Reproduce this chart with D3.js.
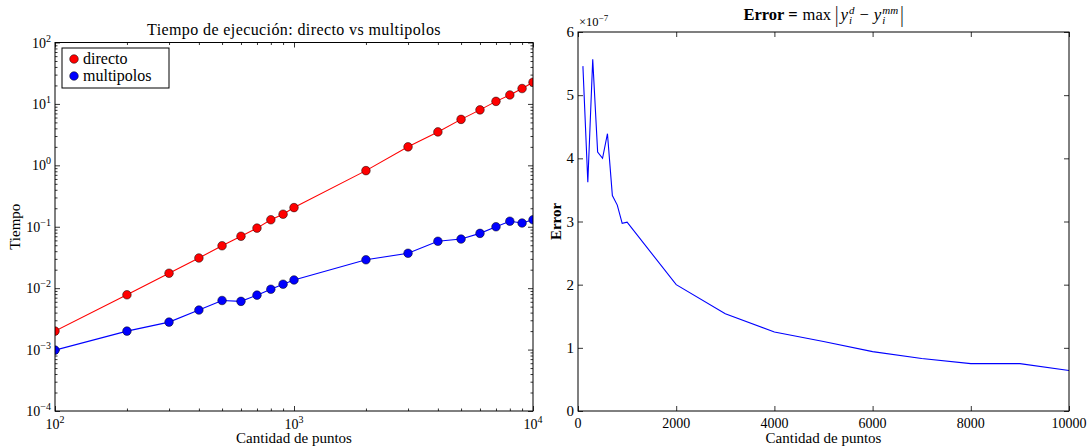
<!DOCTYPE html>
<html>
<head>
<meta charset="utf-8" />
<title>Tiempo de ejecución: directo vs multipolos</title>
<script src="https://d3js.org/d3.v7.min.js" charset="utf-8"></script>
<style>
    body { margin: 0; background: #fff; }
    svg text { font-family: "Liberation Serif", "DejaVu Serif", serif; fill: #000; }
    .axis path { display: none; }
    .axis line { stroke: #000; stroke-width: 0.8; }
</style>
</head>
<body>
<svg id="chart" width="1088" height="447"></svg>
<script>

// cantidad de puntos
var puntos = [100, 200, 300, 400, 500, 600, 700, 800, 900, 1000,
              2000, 3000, 4000, 5000, 6000, 7000, 8000, 9000, 10000];

// tiempos (segundos)
var directo = [0.002, 0.0078, 0.0175, 0.031, 0.049, 0.07, 0.095, 0.13, 0.16, 0.205,
               0.82, 2.0, 3.5, 5.6, 8.0, 11.0, 14.0, 17.8, 22.5];
var multipolos = [0.00098, 0.002, 0.0028, 0.0044, 0.0063, 0.0061, 0.0077, 0.0096, 0.0116, 0.0136,
                  0.029, 0.037, 0.058, 0.063, 0.078, 0.10, 0.123, 0.115, 0.13];

// error maximo (en unidades de 1e-7)
var errorMax = [5.46, 3.62, 5.57, 4.1, 4.0, 4.39, 3.41, 3.26, 2.97, 2.99,
                2.0, 1.54, 1.25, 1.1, 0.94, 0.83, 0.75, 0.75, 0.64];

var logTicksX = [100, 1000, 10000];
var logTicksY = [1e-4, 1e-3, 1e-2, 1e-1, 1e0, 1e1, 1e2];
var errTicksX = [0, 2000, 4000, 6000, 8000, 10000];
var errTicksY = [0, 1, 2, 3, 4, 5, 6];

var svg = d3.select("#chart");
svg.append("rect").attr("width", 1088).attr("height", 447).attr("fill", "#fff");

var fs = 14;

// ---------- helpers ----------

// minor ticks of a log axis: 2..9 for each decade
function minorLog(domain) {
    var out = [];
    for (var e = Math.log10(domain[0]); e < Math.log10(domain[1]); e++) {
        for (var m = 2; m <= 9; m++) out.push(m * Math.pow(10, e));
    }
    return out;
}

// write "10^e" into a tick text
function powLabel(sel) {
    sel.each(function(d) {
        var t = d3.select(this).text(null);
        var e = Math.round(Math.log10(d));
        t.append("tspan").text("10");
        t.append("tspan").attr("font-size", 10).attr("dy", -6)
            .text(e < 0 ? "\u2212" + (-e) : e);
    });
}

// sequence of pieces drawn one after another, centered on cx
function mathLine(g, pieces, cx, y) {
    var grp = g.append("g");
    var x = 0;
    pieces.forEach(function(p) {
        if (p.stack) {
            var w = 0;
            p.stack.forEach(function(s) {
                var t = grp.append("text").attr("x", x).attr("y", y + s.dy)
                    .attr("font-size", s.size).attr("font-style", s.style || null).text(s.t);
                w = Math.max(w, t.node().getComputedTextLength());
            });
            x += w + (p.after || 0);
        } else {
            var yy = y + (p.dy || 0);
            var t = grp.append("text").attr("x", x).attr("y", yy)
                .attr("font-size", p.size).attr("font-weight", p.weight || null)
                .attr("font-style", p.style || null)
                .attr("transform", p.scaleY ? "translate(0," + yy + ") scale(1," + p.scaleY + ") translate(0," + (-yy) + ")" : null)
                .text(p.t);
            x += t.node().getComputedTextLength() + (p.after || 0);
        }
    });
    grp.attr("transform", "translate(" + (cx - x / 2) + ",0)");
}

// ---------- panel izquierdo: tiempo ----------

var L = {left: 55, right: 533, top: 42.5, bottom: 411};

var x1 = d3.scaleLog().domain([100, 10000]).range([L.left, L.right]);
var y1 = d3.scaleLog().domain([1e-4, 1e2]).range([L.bottom, L.top]);

var left = svg.append("g");

// ticks on all four sides, pointing inwards
[[d3.axisBottom, L.bottom], [d3.axisTop, L.top]].forEach(function(a) {
    left.append("g").attr("class", "axis").attr("transform", "translate(0," + a[1] + ")")
        .call(a[0](x1).tickValues(minorLog(x1.domain())).tickSize(-2.5).tickFormat(""));
    left.append("g").attr("class", "axis").attr("transform", "translate(0," + a[1] + ")")
        .call(a[0](x1).tickValues(logTicksX).tickSize(-5).tickFormat(""));
});
[[d3.axisLeft, L.left], [d3.axisRight, L.right]].forEach(function(a) {
    left.append("g").attr("class", "axis").attr("transform", "translate(" + a[1] + ",0)")
        .call(a[0](y1).tickValues(minorLog(y1.domain())).tickSize(-2.5).tickFormat(""));
    left.append("g").attr("class", "axis").attr("transform", "translate(" + a[1] + ",0)")
        .call(a[0](y1).tickValues(logTicksY).tickSize(-5).tickFormat(""));
});

// tick labels
left.append("g").attr("transform", "translate(0," + L.bottom + ")")
    .selectAll("text").data(logTicksX).enter().append("text")
    .attr("x", function(d) { return x1(d); }).attr("y", 18)
    .attr("text-anchor", "middle").attr("font-size", fs).call(powLabel);

left.append("g").attr("transform", "translate(" + L.left + ",0)")
    .selectAll("text").data(logTicksY).enter().append("text")
    .attr("x", -4).attr("y", function(d) { return y1(d) + 5; })
    .attr("text-anchor", "end").attr("font-size", fs).call(powLabel);

// lines + markers
var line1 = d3.line().x(function(d) { return x1(d[0]); }).y(function(d) { return y1(d[1]); });

var series = [
    {name: "directo", vals: directo, color: "#ff0000"},
    {name: "multipolos", vals: multipolos, color: "#0000ff"}
];

svg.append("clipPath").attr("id", "clipL").append("rect")
    .attr("x", L.left).attr("y", L.top).attr("width", L.right - L.left).attr("height", L.bottom - L.top);

series.forEach(function(s) {
    var pts = d3.zip(puntos, s.vals);
    var g = left.append("g").attr("clip-path", "url(#clipL)");
    g.append("path").datum(pts).attr("d", line1)
        .attr("fill", "none").attr("stroke", s.color).attr("stroke-width", 1.1);
    g.selectAll("circle").data(pts).enter().append("circle")
        .attr("cx", function(d) { return x1(d[0]); })
        .attr("cy", function(d) { return y1(d[1]); })
        .attr("r", 4.3).attr("fill", s.color).attr("stroke", "#000").attr("stroke-width", 0.5);
});

left.append("rect").attr("x", L.left).attr("y", L.top)
    .attr("width", L.right - L.left).attr("height", L.bottom - L.top)
    .attr("fill", "none").attr("stroke", "#000").attr("stroke-width", 1);

// legend
var leg = left.append("g").attr("transform", "translate(62,48)");
leg.append("rect").attr("width", 107).attr("height", 40)
    .attr("fill", "#fff").attr("stroke", "#000").attr("stroke-width", 1);
series.forEach(function(s, i) {
    leg.append("circle").attr("cx", 12).attr("cy", 11 + i * 17).attr("r", 4.3)
        .attr("fill", s.color).attr("stroke", "#000").attr("stroke-width", 0.5);
    leg.append("text").attr("x", 21).attr("y", 16 + i * 17).attr("font-size", 16).text(s.name);
});

// titles
left.append("text").attr("x", (L.left + L.right) / 2).attr("y", 35)
    .attr("text-anchor", "middle").attr("font-size", 16).attr("letter-spacing", 0.4)
    .text("Tiempo de ejecución: directo vs multipolos");
left.append("text").attr("x", (L.left + L.right) / 2).attr("y", 443)
    .attr("text-anchor", "middle").attr("font-size", 15).text("Cantidad de puntos");
left.append("text").attr("transform", "translate(20," + ((L.top + L.bottom) / 2) + ") rotate(-90)")
    .attr("text-anchor", "middle").attr("font-size", 15).text("Tiempo");

// ---------- panel derecho: error ----------

var R = {left: 578, right: 1069, top: 32, bottom: 411};

var x2 = d3.scaleLinear().domain([0, 10000]).range([R.left, R.right]);
var y2 = d3.scaleLinear().domain([0, 6]).range([R.bottom, R.top]);

var right = svg.append("g");

[[d3.axisBottom, R.bottom], [d3.axisTop, R.top]].forEach(function(a) {
    right.append("g").attr("class", "axis").attr("transform", "translate(0," + a[1] + ")")
        .call(a[0](x2).tickValues(errTicksX).tickSize(-5).tickFormat(""));
});
[[d3.axisLeft, R.left], [d3.axisRight, R.right]].forEach(function(a) {
    right.append("g").attr("class", "axis").attr("transform", "translate(" + a[1] + ",0)")
        .call(a[0](y2).tickValues(errTicksY).tickSize(-5).tickFormat(""));
});

right.append("g").selectAll("text").data(errTicksX).enter().append("text")
    .attr("x", function(d) { return x2(d); }).attr("y", R.bottom + 17)
    .attr("text-anchor", "middle").attr("font-size", fs).text(function(d) { return d; });

right.append("g").selectAll("text").data(errTicksY).enter().append("text")
    .attr("x", R.left - 4).attr("y", function(d) { return y2(d) + 5; })
    .attr("text-anchor", "end").attr("font-size", fs + 1).text(function(d) { return d; });

var line2 = d3.line().x(function(d) { return x2(d[0]); }).y(function(d) { return y2(d[1]); });
right.append("path").datum(d3.zip(puntos, errorMax)).attr("d", line2)
    .attr("fill", "none").attr("stroke", "#0000ff").attr("stroke-width", 1.1);

right.append("rect").attr("x", R.left).attr("y", R.top)
    .attr("width", R.right - R.left).attr("height", R.bottom - R.top)
    .attr("fill", "none").attr("stroke", "#000").attr("stroke-width", 1);

// offset text x10^-7
var off = right.append("text").attr("x", R.left + 1).attr("y", R.top - 6).attr("font-size", 12.5);
off.append("tspan").text("\u00d710");
off.append("tspan").attr("font-size", 9).attr("dy", -5).text("\u22127");

// title: Error = max |y_i^d - y_i^mm|
mathLine(right, [
    {t: "Error =", size: 16.5, weight: "bold", after: 5},
    {t: "max", size: 16.5, after: 4},
    {t: "|", size: 17, scaleY: 1.35, dy: 2, after: 2},
    {t: "y", size: 17, style: "italic", after: 1},
    {stack: [{t: "d", size: 11, style: "italic", dy: -6}, {t: "i", size: 11, style: "italic", dy: 4}], after: 5},
    {t: "\u2212", size: 16.5, after: 5},
    {t: "y", size: 17, style: "italic", after: 1},
    {stack: [{t: "mm", size: 11, style: "italic", dy: -6}, {t: "i", size: 11, style: "italic", dy: 4}], after: 2},
    {t: "|", size: 17, scaleY: 1.35, dy: 2}
], (R.left + R.right) / 2, 20);

right.append("text").attr("x", (R.left + R.right) / 2).attr("y", 443)
    .attr("text-anchor", "middle").attr("font-size", 15).text("Cantidad de puntos");
right.append("text").attr("transform", "translate(561," + ((R.top + R.bottom) / 2) + ") rotate(-90)")
    .attr("text-anchor", "middle").attr("font-size", 15).attr("font-weight", "bold").text("Error");

</script>
</body>
</html>
